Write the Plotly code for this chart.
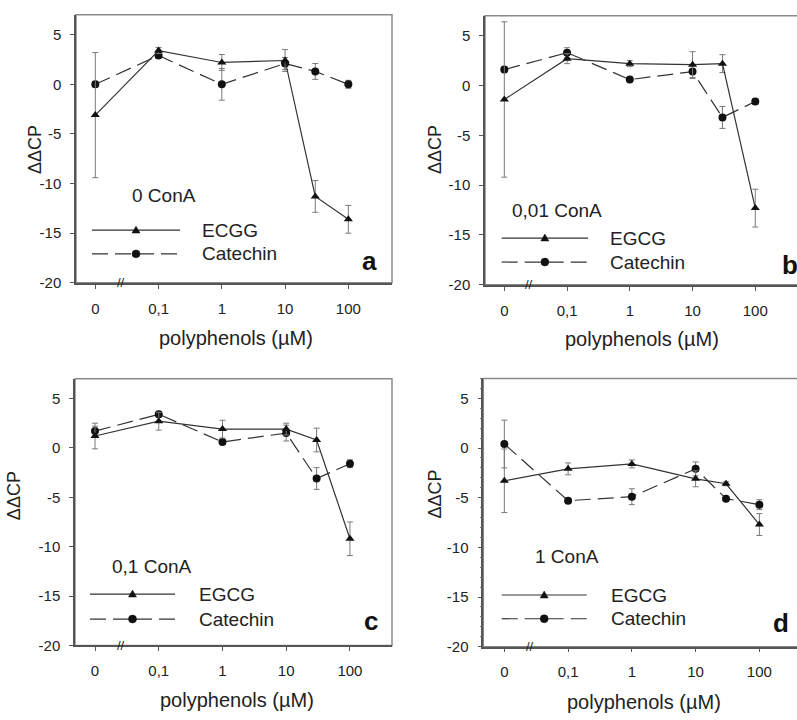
import plotly.graph_objects as go

# ---------------- data ----------------
conc_labels = ["0", "0,1", "1", "10", "30", "100"]
conc_pos = [0.01, 0.1, 1, 10, 30, 100]   # "0" is drawn one decade below 0,1 (axis break)
tick_vals = [0.01, 0.1, 1, 10, 100]
tick_text = ["0", "0,1", "1", "10", "100"]
y_ticks = [-20, -15, -10, -5, 0, 5]
y_tick_text = ["-20", "-15", "-10", "-5", "0", "5"]

a_egcg = [-3.1, 3.4, 2.2, 2.4, -11.3, -13.6]
a_egcg_err = [6.3, 0.3, 0.8, 1.1, 1.6, 1.4]
a_cat = [0.0, 2.9, 0.0, 2.1, 1.3, 0.0]
a_cat_err = [0.3, 0.3, 1.6, 0.6, 0.8, 0.4]

b_egcg = [-1.4, 2.7, 2.2, 2.1, 2.2, -12.3]
b_egcg_err = [7.8, 0.5, 0.3, 1.3, 0.9, 1.9]
b_cat = [1.6, 3.3, 0.6, 1.4, -3.2, -1.6]
b_cat_err = [0.3, 0.5, 0.2, 0.7, 1.1, 0.3]

c_egcg = [1.2, 2.7, 1.9, 1.9, 0.8, -9.2]
c_egcg_err = [1.3, 0.9, 0.9, 0.6, 1.2, 1.7]
c_cat = [1.7, 3.4, 0.6, 1.5, -3.1, -1.6]
c_cat_err = [0.5, 0.3, 0.2, 0.8, 1.1, 0.4]

d_egcg = [-3.3, -2.1, -1.6, -3.1, -3.6, -7.7]
d_egcg_err = [3.2, 0.6, 0.4, 0.8, 0.2, 1.1]
d_cat = [0.4, -5.3, -4.9, -2.1, -5.1, -5.7]
d_cat_err = [2.4, 0.2, 0.8, 0.7, 0.2, 0.5]

conditions = ["0 ConA", "0,01 ConA", "0,1 ConA", "1 ConA"]
egcg_names = ["ECGG", "EGCG", "EGCG", "EGCG"]
cat_name = "Catechin"
panel_letters = ["a", "b", "c", "d"]
x_title = "polyphenols (µM)"
y_title = "ΔΔCP"

# ---------------- layout helpers ----------------
W, H = 797, 720
FONT = "Liberation Sans, Arial, sans-serif"
TXT = "#222222"
LINE = "#333333"
ERR = "#7a7a7a"
DASH = "16px,7px"

def px(x):
    return x / W

def py(y):
    return 1 - y / H

# panel geometry in pixels: left, right, top, bottom, x-range (log10)
panels = [
    dict(l=76, r=392, t=15, b=286, xr=[-2.305, 2.69]),
    dict(l=485, r=797, t=16, b=288, xr=[-2.308, 2.665]),
    dict(l=75, r=392, t=383, b=652.7, xr=[-2.314, 2.66]),
    dict(l=483.3, r=797, t=382.7, b=654, xr=[-2.33, 2.59]),
]
# legend / label positions in pixels
legend_pos = [
    dict(cond=(130, 198), lx=(92, 180), ly=(232.7, 256.7), tx=200, letter=(369, 264), yt=(35, 151.7), xt=(236, 341.7)),
    dict(cond=(510, 213), lx=(501.7, 588), ly=(240.7, 265), tx=608, letter=(790, 268), yt=(435, 151.7), xt=(642, 343)),
    dict(cond=(110, 572.7), lx=(90, 175), ly=(600.7, 626), tx=197, letter=(370.5, 628), yt=(14, 501.7), xt=(236.7, 708)),
    dict(cond=(533, 563), lx=(501.7, 586.7), ly=(601.7, 625.7), tx=609, letter=(781, 630), yt=(435, 500), xt=(644, 710)),
]

egcg_data = [(a_egcg, a_egcg_err), (b_egcg, b_egcg_err), (c_egcg, c_egcg_err), (d_egcg, d_egcg_err)]
cat_data = [(a_cat, a_cat_err), (b_cat, b_cat_err), (c_cat, c_cat_err), (d_cat, d_cat_err)]

fig = go.Figure()
shapes = []
annotations = []
layout_axes = {}

for i in range(4):
    p = panels[i]
    xa = "x" if i == 0 else f"x{i+1}"
    ya = "y" if i == 0 else f"y{i+1}"
    xkey = "xaxis" if i == 0 else f"xaxis{i+1}"
    ykey = "yaxis" if i == 0 else f"yaxis{i+1}"

    ev, ee = egcg_data[i]
    cv, ce = cat_data[i]
    fig.add_trace(go.Scatter(
        x=conc_pos, y=cv, xaxis=xa, yaxis=ya, mode="lines+markers",
        line=dict(color=LINE, width=1.2, dash=DASH),
        marker=dict(symbol="circle", size=8, color="#111111"),
        error_y=dict(type="data", array=ce, color=ERR, thickness=1, width=3),
        showlegend=False, name=cat_name))
    fig.add_trace(go.Scatter(
        x=conc_pos, y=ev, xaxis=xa, yaxis=ya, mode="lines+markers",
        line=dict(color=LINE, width=1.2),
        marker=dict(symbol="triangle-up", size=8, color="#111111"),
        error_y=dict(type="data", array=ee, color=ERR, thickness=1, width=3),
        showlegend=False, name=egcg_names[i]))

    layout_axes[xkey] = dict(
        type="log", range=p["xr"], domain=[px(p["l"]), min(1.0, px(p["r"]))],
        anchor=ya, tickvals=tick_vals, ticktext=tick_text,
        showline=True, linecolor="#555555", linewidth=1.5,
        ticks="outside", ticklen=4, tickcolor="#555555",
        showgrid=False, zeroline=False, ticklabelstandoff=7,
        tickfont=dict(family=FONT, size=15, color=TXT))
    ydict = dict(
        range=[-20, 7], domain=[py(p["b"]), py(p["t"])], anchor=xa,
        tickvals=y_ticks, ticktext=y_tick_text,
        showline=True, linecolor="#555555", linewidth=1.5,
        ticks="outside", ticklen=4, tickcolor="#555555",
        showgrid=False, zeroline=False, ticklabelstandoff=6,
        tickfont=dict(family=FONT, size=15, color=TXT))
    if i == 3:
        ydict["minor"] = dict(dtick=1, ticks="outside", ticklen=2, tickcolor="#777777")
    layout_axes[ykey] = ydict

    # light frame (top / right)
    shapes.append(dict(type="rect", xref=f"{xa} domain", yref=f"{ya} domain",
                       x0=0, x1=1 if p["r"] < 790 else 1.05, y0=0, y1=1,
                       line=dict(color="#8a8a8a", width=1.5), layer="below"))

    # axis break mark
    annotations.append(dict(x=-1.6, y=-20, xref=xa, yref=ya, text="//", showarrow=False,
                            font=dict(family=FONT, size=13, color=TXT), yanchor="middle", xanchor="center"))

    lp = legend_pos[i]
    # condition label
    annotations.append(dict(x=px(lp["cond"][0]), y=py(lp["cond"][1]), xref="paper", yref="paper",
                            text=conditions[i], showarrow=False, xanchor="left", yanchor="middle",
                            font=dict(family=FONT, size=19, color=TXT)))
    # legend lines
    x0, x1 = lp["lx"]
    for j, (nm, dash) in enumerate([(egcg_names[i], "solid"), (cat_name, DASH)]):
        yy = lp["ly"][j]
        shapes.append(dict(type="line", xref="paper", yref="paper",
                           x0=px(x0), x1=px(x1), y0=py(yy), y1=py(yy),
                           line=dict(color=LINE, width=1.2, dash=dash)))
        xc = (x0 + x1) / 2
        if j == 0:
            path = (f"M {px(xc-4)},{py(yy+3)} L {px(xc+4)},{py(yy+3)} "
                    f"L {px(xc)},{py(yy-4)} Z")
            shapes.append(dict(type="path", xref="paper", yref="paper", path=path,
                               fillcolor="#111111", line=dict(color="#111111", width=0.5)))
        else:
            shapes.append(dict(type="circle", xref="paper", yref="paper",
                               x0=px(xc-4), x1=px(xc+4), y0=py(yy+4), y1=py(yy-4),
                               fillcolor="#111111", line=dict(color="#111111", width=0.5)))
        annotations.append(dict(x=px(lp["tx"]), y=py(yy), xref="paper", yref="paper",
                                text=nm, showarrow=False, xanchor="left", yanchor="middle",
                                font=dict(family=FONT, size=19, color=TXT)))
    # panel letter
    annotations.append(dict(x=px(lp["letter"][0]), y=py(lp["letter"][1]), xref="paper", yref="paper",
                            text=f"<b>{panel_letters[i]}</b>", showarrow=False,
                            xanchor="center", yanchor="middle",
                            font=dict(family=FONT, size=26, color="#111111")))
    # axis titles
    annotations.append(dict(x=px(lp["yt"][0]), y=py(lp["yt"][1]), xref="paper", yref="paper",
                            text=y_title, textangle=-90, showarrow=False,
                            xanchor="center", yanchor="middle",
                            font=dict(family=FONT, size=18, color=TXT)))
    annotations.append(dict(x=px(lp["xt"][0]), y=py(lp["xt"][1]), xref="paper", yref="paper",
                            text=x_title, showarrow=False, xanchor="center", yanchor="middle",
                            font=dict(family=FONT, size=20, color=TXT)))

fig.update_layout(
    width=W, height=H, margin=dict(l=0, r=0, t=0, b=0),
    paper_bgcolor="white", plot_bgcolor="white",
    showlegend=False, shapes=shapes, annotations=annotations,
    **layout_axes)

fig.write_html("out.html")
